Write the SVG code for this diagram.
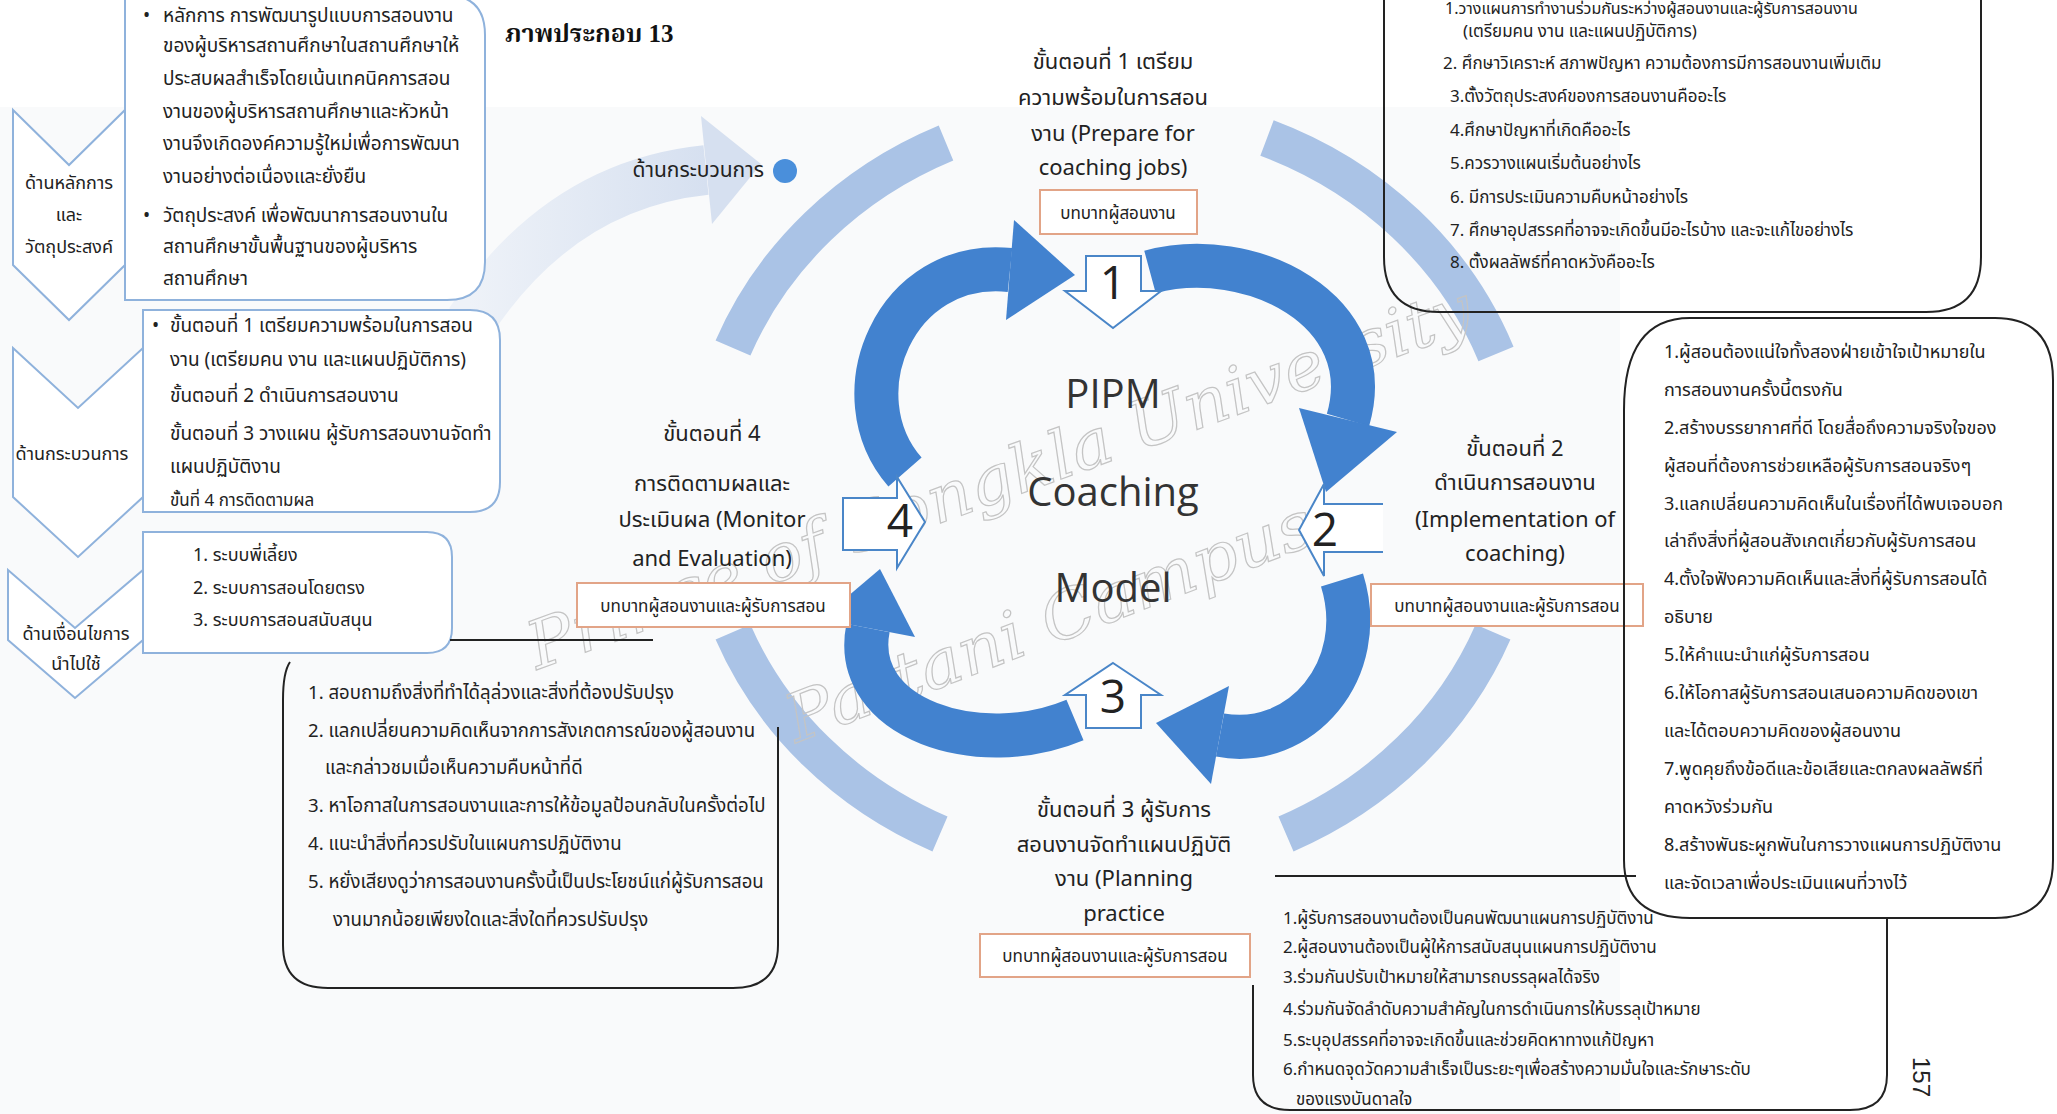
<svg xmlns="http://www.w3.org/2000/svg" width="2057" height="1114" viewBox="0 0 2057 1114">
<style>
.th{font-family:"Noto Sans Thai","Noto Sans","DejaVu Sans",sans-serif;fill:#222}
.lb{fill:#fff;stroke:#8fb2dc;stroke-width:2}
.bk{fill:none;stroke:#222;stroke-width:2}
.or{fill:#fff;stroke:#e2a487;stroke-width:2}
.ring{fill:none;stroke:#aac3e6;stroke-width:38}
.arw{fill:none;stroke:#4282cf;stroke-width:44}
.ahd{fill:#4282cf}
.blk{fill:#fff;stroke:#4a86c8;stroke-width:2}
.num{font-family:"Open Sans","Liberation Sans",sans-serif;font-size:46px;fill:#222;text-anchor:middle}
.wm{font-family:"DejaVu Serif",serif;font-style:italic;font-size:66px;fill:none;stroke:#c4c4c4;stroke-width:1.2}
.c{text-anchor:middle}
</style>
<defs>
<linearGradient id="pale" x1="0" y1="0" x2="1" y2="0">
<stop offset="0" stop-color="#eef2f8"/><stop offset="1" stop-color="#d6e0f0"/>
</linearGradient>
</defs>
<rect width="2057" height="1114" fill="#fff"/>
<rect x="0" y="107" width="1620" height="1007" fill="#f9fafb"/>

<!-- pale ring -->
<g id="ring">
<path class="ring" d="M 1267 138 A 410 380 0 0 1 1496 354"/>
<path class="ring" d="M 1493 632 A 410 380 0 0 1 1286 834"/>
<path class="ring" d="M 940 834 A 410 380 0 0 1 733 632"/>
<path class="ring" d="M 733 348 A 410 380 0 0 1 946 143"/>
</g>

<!-- pale big arrow -->
<g id="pale-arrow">
<path d="M 470 322 Q 560 185 706 170" fill="none" stroke="url(#pale)" stroke-width="50"/>
<polygon points="701,116 761,164 712,224" fill="#d6e0f0"/>
</g>

<!-- watermark -->
<g id="watermark">
<text class="wm" x="1000" y="500" text-anchor="middle" textLength="1000" lengthAdjust="spacingAndGlyphs" transform="rotate(-20 1000 479)">Prince of Songkla University</text>
<text class="wm" x="1050" y="644" text-anchor="middle" textLength="560" lengthAdjust="spacingAndGlyphs" transform="rotate(-21 1050 623)">Pattani Campus</text>
</g>

<!-- connectors: curved cycle arrows -->
<g id="connectors">
<path class="arw" d="M 905 472 C 838 395 895 258 1010 270"/>
<polygon class="ahd" points="1006,320 1075,275 1014,220"/>
<path class="arw" d="M 1150 272 C 1250 245 1380 310 1348 420"/>
<polygon class="ahd" points="1397,432 1326,492 1299,408"/>
<path class="arw" d="M 1342 580 C 1370 670 1300 750 1220 735"/>
<polygon class="ahd" points="1229,686 1156,723 1211,784"/>
<path class="arw" d="M 1075 720 C 980 760 850 720 868 628"/>
<polygon class="ahd" points="915,637 880,569 821,619"/>
</g>

<!-- number blocks -->
<g id="step1-block">
<path class="blk" d="M 1086 256 L 1141 256 L 1141 291 L 1161 291 L 1113 328 L 1065 291 L 1086 291 Z"/>
<text class="num" x="1113" y="299">1</text>
</g>
<g id="step2-block">
<path class="blk" d="M 1383 504 L 1324 504 L 1324 484 L 1299 530 L 1324 576 L 1324 552 L 1383 552"/>
<text class="num" x="1325" y="546">2</text>
</g>
<g id="step3-block">
<path class="blk" d="M 1113 663 L 1161 695 L 1141 695 L 1141 728 L 1086 728 L 1086 695 L 1065 695 Z"/>
<text class="num" x="1113" y="713">3</text>
</g>
<g id="step4-block">
<path class="blk" d="M 843 498 L 897 498 L 897 477 L 925 522 L 897 568 L 897 550 L 843 550 Z"/>
<text class="num" x="900" y="537">4</text>
</g>

<!-- center title -->
<g id="center" font-family="'Open Sans','Liberation Sans',sans-serif" font-size="40" fill="#333" text-anchor="middle">
<text x="1113" y="408">PIPM</text>
<text x="1113" y="506">Coaching</text>
<text x="1113" y="602">Model</text>
</g>

<!-- title -->
<text x="505" y="42" font-family="'Liberation Serif','Noto Serif Thai','Noto Sans Thai',serif" font-weight="bold" font-size="25" fill="#111">ภาพประกอบ 13</text>

<!-- process dot label -->
<g id="process-dot">
<text class="th" x="764" y="177" text-anchor="end" font-size="21">ด้านกระบวนการ</text>
<circle cx="785" cy="171" r="12" fill="#4a8fdb"/>
</g>

<!-- step labels -->
<g id="step1-label" class="th" font-size="22">
<text class="c" x="1113" y="69">ขั้นตอนที่ 1 เตรียม</text>
<text class="c" x="1113" y="105">ความพร้อมในการสอน</text>
<text class="c" x="1113" y="141">งาน (Prepare for</text>
<text class="c" x="1113" y="175">coaching jobs)</text>
<rect class="or" x="1040" y="190" width="157" height="44"/>
<text class="c" x="1118" y="219" font-size="17">บทบาทผู้สอนงาน</text>
</g>
<g id="step2-label" class="th" font-size="22">
<text class="c" x="1515" y="456">ขั้นตอนที่ 2</text>
<text class="c" x="1515" y="490">ดำเนินการสอนงาน</text>
<text class="c" x="1515" y="527">(Implementation of</text>
<text class="c" x="1515" y="561">coaching)</text>
<rect class="or" x="1371" y="584" width="272" height="42"/>
<text class="c" x="1507" y="612" font-size="17">บทบาทผู้สอนงานและผู้รับการสอน</text>
</g>
<g id="step3-label" class="th" font-size="22">
<text class="c" x="1124" y="817">ขั้นตอนที่ 3  ผู้รับการ</text>
<text class="c" x="1124" y="852">สอนงานจัดทำแผนปฏิบัติ</text>
<text class="c" x="1124" y="886">งาน (Planning</text>
<text class="c" x="1124" y="921">practice</text>
<rect class="or" x="980" y="934" width="270" height="43"/>
<text class="c" x="1115" y="962" font-size="17">บทบาทผู้สอนงานและผู้รับการสอน</text>
</g>
<g id="step4-label" class="th" font-size="22">
<text class="c" x="712" y="441">ขั้นตอนที่  4</text>
<text class="c" x="712" y="491">การติดตามผลและ</text>
<text class="c" x="712" y="527">ประเมินผล (Monitor</text>
<text class="c" x="712" y="566">and Evaluation)</text>
<rect class="or" x="577" y="583" width="273" height="44"/>
<text class="c" x="713" y="612" font-size="17">บทบาทผู้สอนงานและผู้รับการสอน</text>
</g>

<!-- left chevrons -->
<g id="chevron1">
<path class="lb" d="M 13 110 L 69 165 L 125 110 L 125 265 L 69 320 L 13 265 Z"/>
<g class="th c" font-size="18">
<text x="69" y="189">ด้านหลักการ</text>
<text x="69" y="221">และ</text>
<text x="69" y="253">วัตถุประสงค์</text>
</g>
</g>
<g id="chevron2">
<path class="lb" d="M 13 348 L 78 408 L 143 348 L 143 497 L 78 557 L 13 497 Z"/>
<text class="th c" x="72" y="460" font-size="18">ด้านกระบวนการ</text>
</g>
<g id="chevron3">
<path class="lb" d="M 8 570 L 75 628 L 143 570 L 143 640 L 75 698 L 8 640 Z"/>
<g class="th c" font-size="18">
<text x="76" y="640">ด้านเงื่อนไขการ</text>
<text x="76" y="670">นำไปใช้</text>
</g>
</g>

<!-- box A -->
<g id="box-principles">
<path class="lb" d="M 125 -5 L 445 -5 Q 485 -5 485 35 L 485 262 Q 485 300 447 300 L 125 300 Z"/>
<g class="th" font-size="19">
<text x="143" y="22">•</text>
<text x="163" y="22">หลักการ  การพัฒนารูปแบบการสอนงาน</text>
<text x="163" y="52">ของผู้บริหารสถานศึกษาในสถานศึกษาให้</text>
<text x="163" y="85">ประสบผลสำเร็จโดยเน้นเทคนิคการสอน</text>
<text x="163" y="118">งานของผู้บริหารสถานศึกษาและหัวหน้า</text>
<text x="163" y="150">งานจึงเกิดองค์ความรู้ใหม่เพื่อการพัฒนา</text>
<text x="163" y="183">งานอย่างต่อเนื่องและยั่งยืน</text>
<text x="143" y="222">•</text>
<text x="163" y="222">วัตถุประสงค์ เพื่อพัฒนาการสอนงานใน</text>
<text x="163" y="253">สถานศึกษาขั้นพื้นฐานของผู้บริหาร</text>
<text x="163" y="285">สถานศึกษา</text>
</g>
</g>

<!-- box B -->
<g id="box-process">
<path class="lb" d="M 143 310 L 470 310 Q 500 310 500 340 L 500 482 Q 500 512 470 512 L 143 512 Z"/>
<g class="th" font-size="19">
<text x="152" y="332">•</text>
<text x="170" y="332">ขั้นตอนที่ 1 เตรียมความพร้อมในการสอน</text>
<text x="170" y="366">งาน (เตรียมคน งาน และแผนปฏิบัติการ)</text>
<text x="170" y="402">ขั้นตอนที่ 2 ดำเนินการสอนงาน</text>
<text x="170" y="440">ขั้นตอนที่ 3 วางแผน ผู้รับการสอนงานจัดทำ</text>
<text x="170" y="473">แผนปฏิบัติงาน</text>
<text x="170" y="506" font-size="17">ขั้นที่ 4 การติดตามผล</text>
</g>
</g>

<!-- box C -->
<g id="box-conditions">
<path class="lb" d="M 143 532 L 427 532 Q 452 532 452 557 L 452 628 Q 452 653 427 653 L 143 653 Z"/>
<g class="th" font-size="18">
<text x="193" y="561">1. ระบบพี่เลี้ยง</text>
<text x="193" y="594">2. ระบบการสอนโดยตรง</text>
<text x="193" y="626">3. ระบบการสอนสนับสนุน</text>
</g>
</g>

<!-- box D -->
<g id="box-step4-details">
<path class="bk" d="M 450 640 L 653 640"/>
<path class="bk" d="M 290 662 Q 283 672 283 700 L 283 945 Q 283 988 328 988 L 733 988 Q 778 988 778 945 L 778 727"/>
<g class="th" font-size="18.6">
<text x="308" y="699">1. สอบถามถึงสิ่งที่ทำได้ลุล่วงและสิ่งที่ต้องปรับปรุง</text>
<text x="308" y="737">2. แลกเปลี่ยนความคิดเห็นจากการสังเกตการณ์ของผู้สอนงาน</text>
<text x="325" y="774">และกล่าวชมเมื่อเห็นความคืบหน้าที่ดี</text>
<text x="308" y="812">3. หาโอกาสในการสอนงานและการให้ข้อมูลป้อนกลับในครั้งต่อไป</text>
<text x="308" y="850">4. แนะนำสิ่งที่ควรปรับในแผนการปฏิบัติงาน</text>
<text x="308" y="888">5. หยั่งเสียงดูว่าการสอนงานครั้งนี้เป็นประโยชน์แก่ผู้รับการสอน</text>
<text x="333" y="926">งานมากน้อยเพียงใดและสิ่งใดที่ควรปรับปรุง</text>
</g>
</g>

<!-- box E -->
<g id="box-step1-details">
<path class="bk" d="M 1384 -30 L 1384 257 Q 1384 312 1439 312 L 1926 312 Q 1981 312 1981 257 L 1981 -30"/>
<g class="th" font-size="17">
<text x="1445" y="14" font-size="16">1.วางแผนการทำงานร่วมกันระหว่างผู้สอนงานและผู้รับการสอนงาน</text>
<text x="1463" y="37">(เตรียมคน งาน และแผนปฏิบัติการ)</text>
<text x="1443" y="69">2. ศึกษาวิเคราะห์ สภาพปัญหา ความต้องการมีการสอนงานเพิ่มเติม</text>
<text x="1450" y="102">3.ตั้งวัตถุประสงค์ของการสอนงานคืออะไร</text>
<text x="1450" y="136">4.ศึกษาปัญหาที่เกิดคืออะไร</text>
<text x="1450" y="169">5.ควรวางแผนเริ่มต้นอย่างไร</text>
<text x="1450" y="203">6. มีการประเมินความคืบหน้าอย่างไร</text>
<text x="1450" y="236">7. ศึกษาอุปสรรคที่อาจจะเกิดขึ้นมีอะไรบ้าง และจะแก้ไขอย่างไร</text>
<text x="1450" y="268">8. ตั้งผลลัพธ์ที่คาดหวังคืออะไร</text>
</g>
</g>

<!-- box F -->
<g id="box-step2-details">
<path class="bk" d="M 1624 410 Q 1624 318 1690 318 L 1995 318 Q 2053 318 2053 380 L 2053 860 Q 2053 918 1995 918 L 1690 918 Q 1624 918 1624 860 Z"/>
<g class="th" font-size="18">
<text x="1664" y="358">1.ผู้สอนต้องแน่ใจทั้งสองฝ่ายเข้าใจเป้าหมายใน</text>
<text x="1664" y="396">การสอนงานครั้งนี้ตรงกัน</text>
<text x="1664" y="434">2.สร้างบรรยากาศที่ดี โดยสื่อถึงความจริงใจของ</text>
<text x="1664" y="472">ผู้สอนที่ต้องการช่วยเหลือผู้รับการสอนจริงๆ</text>
<text x="1664" y="510">3.แลกเปลี่ยนความคิดเห็นในเรื่องที่ได้พบเจอบอก</text>
<text x="1664" y="547">เล่าถึงสิ่งที่ผู้สอนสังเกตเกี่ยวกับผู้รับการสอน</text>
<text x="1664" y="585">4.ตั้งใจฟังความคิดเห็นและสิ่งที่ผู้รับการสอนได้</text>
<text x="1664" y="623">อธิบาย</text>
<text x="1664" y="661">5.ให้คำแนะนำแก่ผู้รับการสอน</text>
<text x="1664" y="699">6.ให้โอกาสผู้รับการสอนเสนอความคิดของเขา</text>
<text x="1664" y="737">และได้ตอบความคิดของผู้สอนงาน</text>
<text x="1664" y="775">7.พูดคุยถึงข้อดีและข้อเสียและตกลงผลลัพธ์ที่</text>
<text x="1664" y="813">คาดหวังร่วมกัน</text>
<text x="1664" y="851">8.สร้างพันธะผูกพันในการวางแผนการปฏิบัติงาน</text>
<text x="1664" y="889">และจัดเวลาเพื่อประเมินแผนที่วางไว้</text>
</g>
</g>

<!-- box G -->
<g id="box-step3-details">
<path class="bk" d="M 1275 876 L 1636 876"/>
<path class="bk" d="M 1253 985 L 1253 1075 Q 1253 1110 1290 1110 L 1850 1110 Q 1887 1110 1887 1075 L 1887 918"/>
<g class="th" font-size="17">
<text x="1283" y="924">1.ผู้รับการสอนงานต้องเป็นคนพัฒนาแผนการปฏิบัติงาน</text>
<text x="1283" y="953">2.ผู้สอนงานต้องเป็นผู้ให้การสนับสนุนแผนการปฏิบัติงาน</text>
<text x="1283" y="983">3.ร่วมกันปรับเป้าหมายให้สามารถบรรลุผลได้จริง</text>
<text x="1283" y="1015">4.ร่วมกันจัดลำดับความสำคัญในการดำเนินการให้บรรลุเป้าหมาย</text>
<text x="1283" y="1046">5.ระบุอุปสรรคที่อาจจะเกิดขึ้นและช่วยคิดหาทางแก้ปัญหา</text>
<text x="1283" y="1075">6.กำหนดจุดวัดความสำเร็จเป็นระยะๆเพื่อสร้างความมั่นใจและรักษาระดับ</text>
<text x="1296" y="1105">ของแรงบันดาลใจ</text>
</g>
</g>

<!-- page number -->
<text x="1919" y="1077" font-family="'Liberation Sans',sans-serif" font-size="24" fill="#222" text-anchor="middle" dominant-baseline="middle" transform="rotate(90 1919 1077)">157</text>
</svg>
